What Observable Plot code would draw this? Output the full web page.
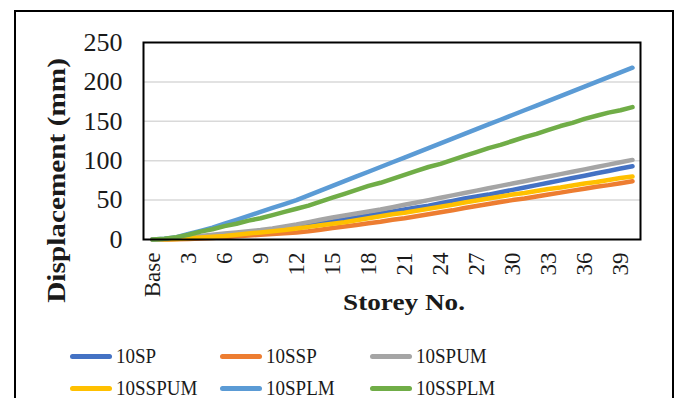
<!DOCTYPE html>
<html>
<head>
<meta charset="utf-8">
<script src="https://cdn.jsdelivr.net/npm/d3@7"></script>
<script src="https://cdn.jsdelivr.net/npm/@observablehq/plot@0.6"></script>
<style>
  html, body { margin: 0; padding: 0; background: #fff; }
  #wrap { position: relative; width: 681px; height: 398px; overflow: hidden; background: #fff; }
  #border { position: absolute; left: 14px; top: 10px; height: 400px; width: 660px; border: 2px solid #000; box-sizing: border-box; }
  #chart { position: absolute; left: 0; top: 0; }
  .leg { position: absolute; font-family: "Liberation Serif", serif; font-size: 19px; color: #1a1a1a; line-height: 1; }
  .sw { position: absolute; width: 42px; height: 5px; border-radius: 3px; }
</style>
</head>
<body>
<div id="wrap">
  <div id="border"></div>
  <div id="chart"></div>
  <div id="legend"></div>
</div>
<script>
const storeys = ["Base","1","2","3","4","5","6","7","8","9","10","11","12","13","14","15","16","17","18","19","20",
  "21","22","23","24","25","26","27","28","29","30","31","32","33","34","35","36","37","38","39","40"];
const xTickLabels = ["Base","3","6","9","12","15","18","21","24","27","30","33","36","39"];
const yTickValues = [0, 50, 100, 150, 200, 250];
const seriesNames = ["10SP","10SSP","10SPUM","10SSPUM","10SPLM","10SSPLM"];
const seriesColors = ["#4472C4","#ED7D31","#A5A5A5","#FFC000","#5B9BD5","#70AD47"];

const sp10 = [0,0.3,1,2,3,4,5.5,7,8.5,10,12,14,16,18,20.5,23,25.5,28,30.5,33,35.5,38,40.5,43,46,49,52,54.5,57,60,63,66,69,72,75,78,81,84,87,90,93];
const ssp10 = [0,0,0.3,0.7,1.2,2,3,4,5,6,7,8,9,10.5,12.5,14.5,16.5,18.5,20.5,22.5,25,27,29.5,32,34.5,37,40,42.5,45,47.5,50,52,54.5,57,59.5,62,64.5,67,69,71.5,74];
const spum10 = [0,0.5,1.5,3,4.5,6,7.5,9,10.5,12,14,16.5,19,22,25,28,30.5,33,35.5,38,41,44,47,50,53,56,59,62,65,68,71,74,77,80,83,86,89,92,95,98,101];
const sspum10 = [0,0.2,0.7,1.5,2.5,3.5,4.5,6,7.5,9,10.5,12,14,16,18,20,22,24.5,27,29.5,32,34,36.5,39,41.5,44,47,49.5,52,54.5,57,59,61.5,64,66,68.5,71,73,75.5,78,80];
const splm10 = [0,1,3,7,11,15,20,25,30,35,40,45,50,56,62,68,74,80,86,92,98,104,110,116,122,128,134,140,146,152,158,164,170,176,182,188,194,200,206,212,218];
const ssplm10 = [0,1,3,6,10,13,17,20,24,27,31,35,39,43,48,53,58,63,68,72,77,82,87,92,96,101,106,111,116,120,125,130,134,139,144,148,153,157,161,164,168];

const seriesValues = [sp10, ssp10, spum10, sspum10, splm10, ssplm10];
const rows = [];
seriesNames.forEach((name, k) => {
  storeys.forEach((s, i) => rows.push({series: name, storey: s, value: seriesValues[k][i]}));
});

const chart = Plot.plot({
  width: 681,
  height: 330,
  marginLeft: 143,
  marginRight: 41,
  marginTop: 42,
  marginBottom: 91,
  style: {fontFamily: "'Liberation Serif', serif", color: "#1a1a1a", background: "transparent", overflow: "visible"},
  x: {type: "point", domain: storeys, label: null},
  y: {domain: [0, 250], label: null},
  color: {domain: seriesNames, range: seriesColors},
  marks: [
    Plot.gridY(yTickValues.filter(d => d > 0 && d < 250), {stroke: "#d9d9d9", strokeOpacity: 1, strokeWidth: 1.5}),
    Plot.line(rows, {x: "storey", y: "value", z: "series", stroke: "series", strokeWidth: 4.5, strokeLinecap: "round", strokeLinejoin: "round"}),
    Plot.frame({stroke: "#000", strokeWidth: 2}),
    Plot.axisX({ticks: xTickLabels, tickSize: 0, tickPadding: 13, tickRotate: -90, fontSize: 23, label: null}),
    Plot.axisY({ticks: yTickValues, tickSize: 0, tickPadding: 21, fontSize: 26, label: null}),
    Plot.text(["Displacement (mm)"], {y: () => 75, frameAnchor: "left", textAnchor: "middle", dx: -87, rotate: -90, fontWeight: "bold", fontSize: 25, fill: "#1a1a1a"}),
    Plot.text(["Storey No."], {frameAnchor: "bottom", textAnchor: "middle", dx: 12, dy: 70, fontWeight: "bold", fontSize: 24, fill: "#1a1a1a"})
  ]
});
document.getElementById("chart").appendChild(chart);

// stretch the titles along their reading direction to match the reference widths
const targets = {"Displacement (mm)": 245, "Storey No.": 122};
chart.querySelectorAll("text").forEach(t => {
  const want = targets[t.textContent];
  if (want) {
    const have = t.getComputedTextLength();
    const s = want / have;
    const tr = t.getAttribute("transform") || "";
    t.setAttribute("transform", tr + ` scale(${s.toFixed(3)},1)`);
  }
});

// legend below the chart
const legend = document.getElementById("legend");
const colX = [70, 220, 370];
const rowY = [356, 388];
seriesNames.forEach((name, k) => {
  const cx = colX[k % 3], cy = rowY[Math.floor(k / 3)];
  const sw = document.createElement("div");
  sw.className = "sw";
  sw.style.left = cx + "px";
  sw.style.top = (cy - 2.5) + "px";
  sw.style.background = seriesColors[k];
  legend.appendChild(sw);
  const lab = document.createElement("div");
  lab.className = "leg";
  lab.textContent = name;
  lab.style.left = (cx + 46) + "px";
  lab.style.top = (cy - 10) + "px";
  lab.style.transform = "scaleY(1.1)";
  lab.style.transformOrigin = "left center";
  legend.appendChild(lab);
});
</script>
</body>
</html>
